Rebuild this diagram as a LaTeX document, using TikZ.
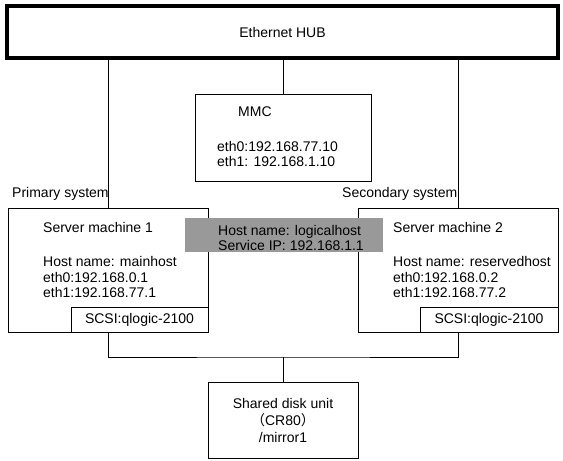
\documentclass[tikz,border=0pt]{standalone}
\usepackage{fontspec}
\setmainfont{Liberation Sans}
\newfontfamily\cjk{Noto Sans CJK JP}
\tikzset{
  box/.style={draw, rectangle, line width=1pt, inner sep=0pt, outer sep=0pt, anchor=north west},
  txt/.style={anchor=west, inner sep=0pt, font=\fontsize{14}{17}\selectfont},
  link/.style={line width=1pt}
}
\begin{document}
\begin{tikzpicture}[x=1pt, y=-1pt]
                \useasboundingbox (0,0) rectangle (563,461);
                \node (hub) [box, line width=4pt, minimum width=551pt, minimum height=52pt,
                    font=\fontsize{14}{17}\selectfont] at (7,6) {Ethernet HUB};
                \node (mmc) [box, minimum width=176pt, minimum height=87pt] at (195,94) {};
                \node (mmcname) [txt] at (238,112) {MMC};
                \node (mmceth0) [txt] at (217,146) {eth0:192.168.77.10};
                \node (mmceth1) [txt] at (217,161) {eth1: 192.168.1.10};
                \node (prim) [txt] at (12,194) {Primary system};
                \node (sec) [txt] at (342,194) {Secondary system};
                \node (s1) [box, minimum width=200pt, minimum height=124pt] at (8,208) {};
                \node (scsi1) [box, minimum width=137pt, minimum height=25pt,
                    font=\fontsize{14}{17}\selectfont] at (71,307) {SCSI:qlogic-2100};
                \node (s1name) [txt] at (43,227) {Server machine 1};
                \node (s1host) [txt] at (43,261) {Host name: mainhost};
                \node (s1eth0) [txt] at (43,277) {eth0:192.168.0.1};
                \node (s1eth1) [txt] at (43,292) {eth1:192.168.77.1};
                \node (s2) [box, minimum width=200pt, minimum height=124pt] at (358,208) {};
                \node (scsi2) [box, minimum width=138pt, minimum height=25pt,
                    font=\fontsize{14}{17}\selectfont] at (420,307) {SCSI:qlogic-2100};
                \node (s2name) [txt] at (393,227) {Server machine 2};
                \node (s2host) [txt] at (393,261) {Host name: reservedhost};
                \node (s2eth0) [txt] at (393,277) {eth0:192.168.0.2};
                \node (s2eth1) [txt] at (393,292) {eth1:192.168.77.2};
                % service address shared by both servers
                \node (vip) [rectangle, fill=black!40, inner sep=0pt, anchor=north west,
                    minimum width=198pt, minimum height=34pt] at (185,218) {};
                \node (viphost) [txt] at (218,232) {Host name: logicalhost};
                \node (vipip) [txt] at (218,245) {Service IP: 192.168.1.1};
                \node (disk) [box, minimum width=150pt, minimum height=76pt, align=center,
                    font=\fontsize{14}{17}\selectfont] at (208,382) {Shared disk unit\\{\cjk （}CR80{\cjk ）}\\/mirror1};
                \coordinate (bus) at (283,357);
                \draw [link] (hub.south -| s1.north) -- (s1.north);
                \draw [link] (hub.south -| mmc.north) -- (mmc.north);
                \draw [link] (hub.south -| s2.north) -- (s2.north);
                \draw [link] (s1.south) |- (bus) -| (s2.south);
                \draw [link] (bus) -- (disk.north);
\end{tikzpicture}
\end{document}
